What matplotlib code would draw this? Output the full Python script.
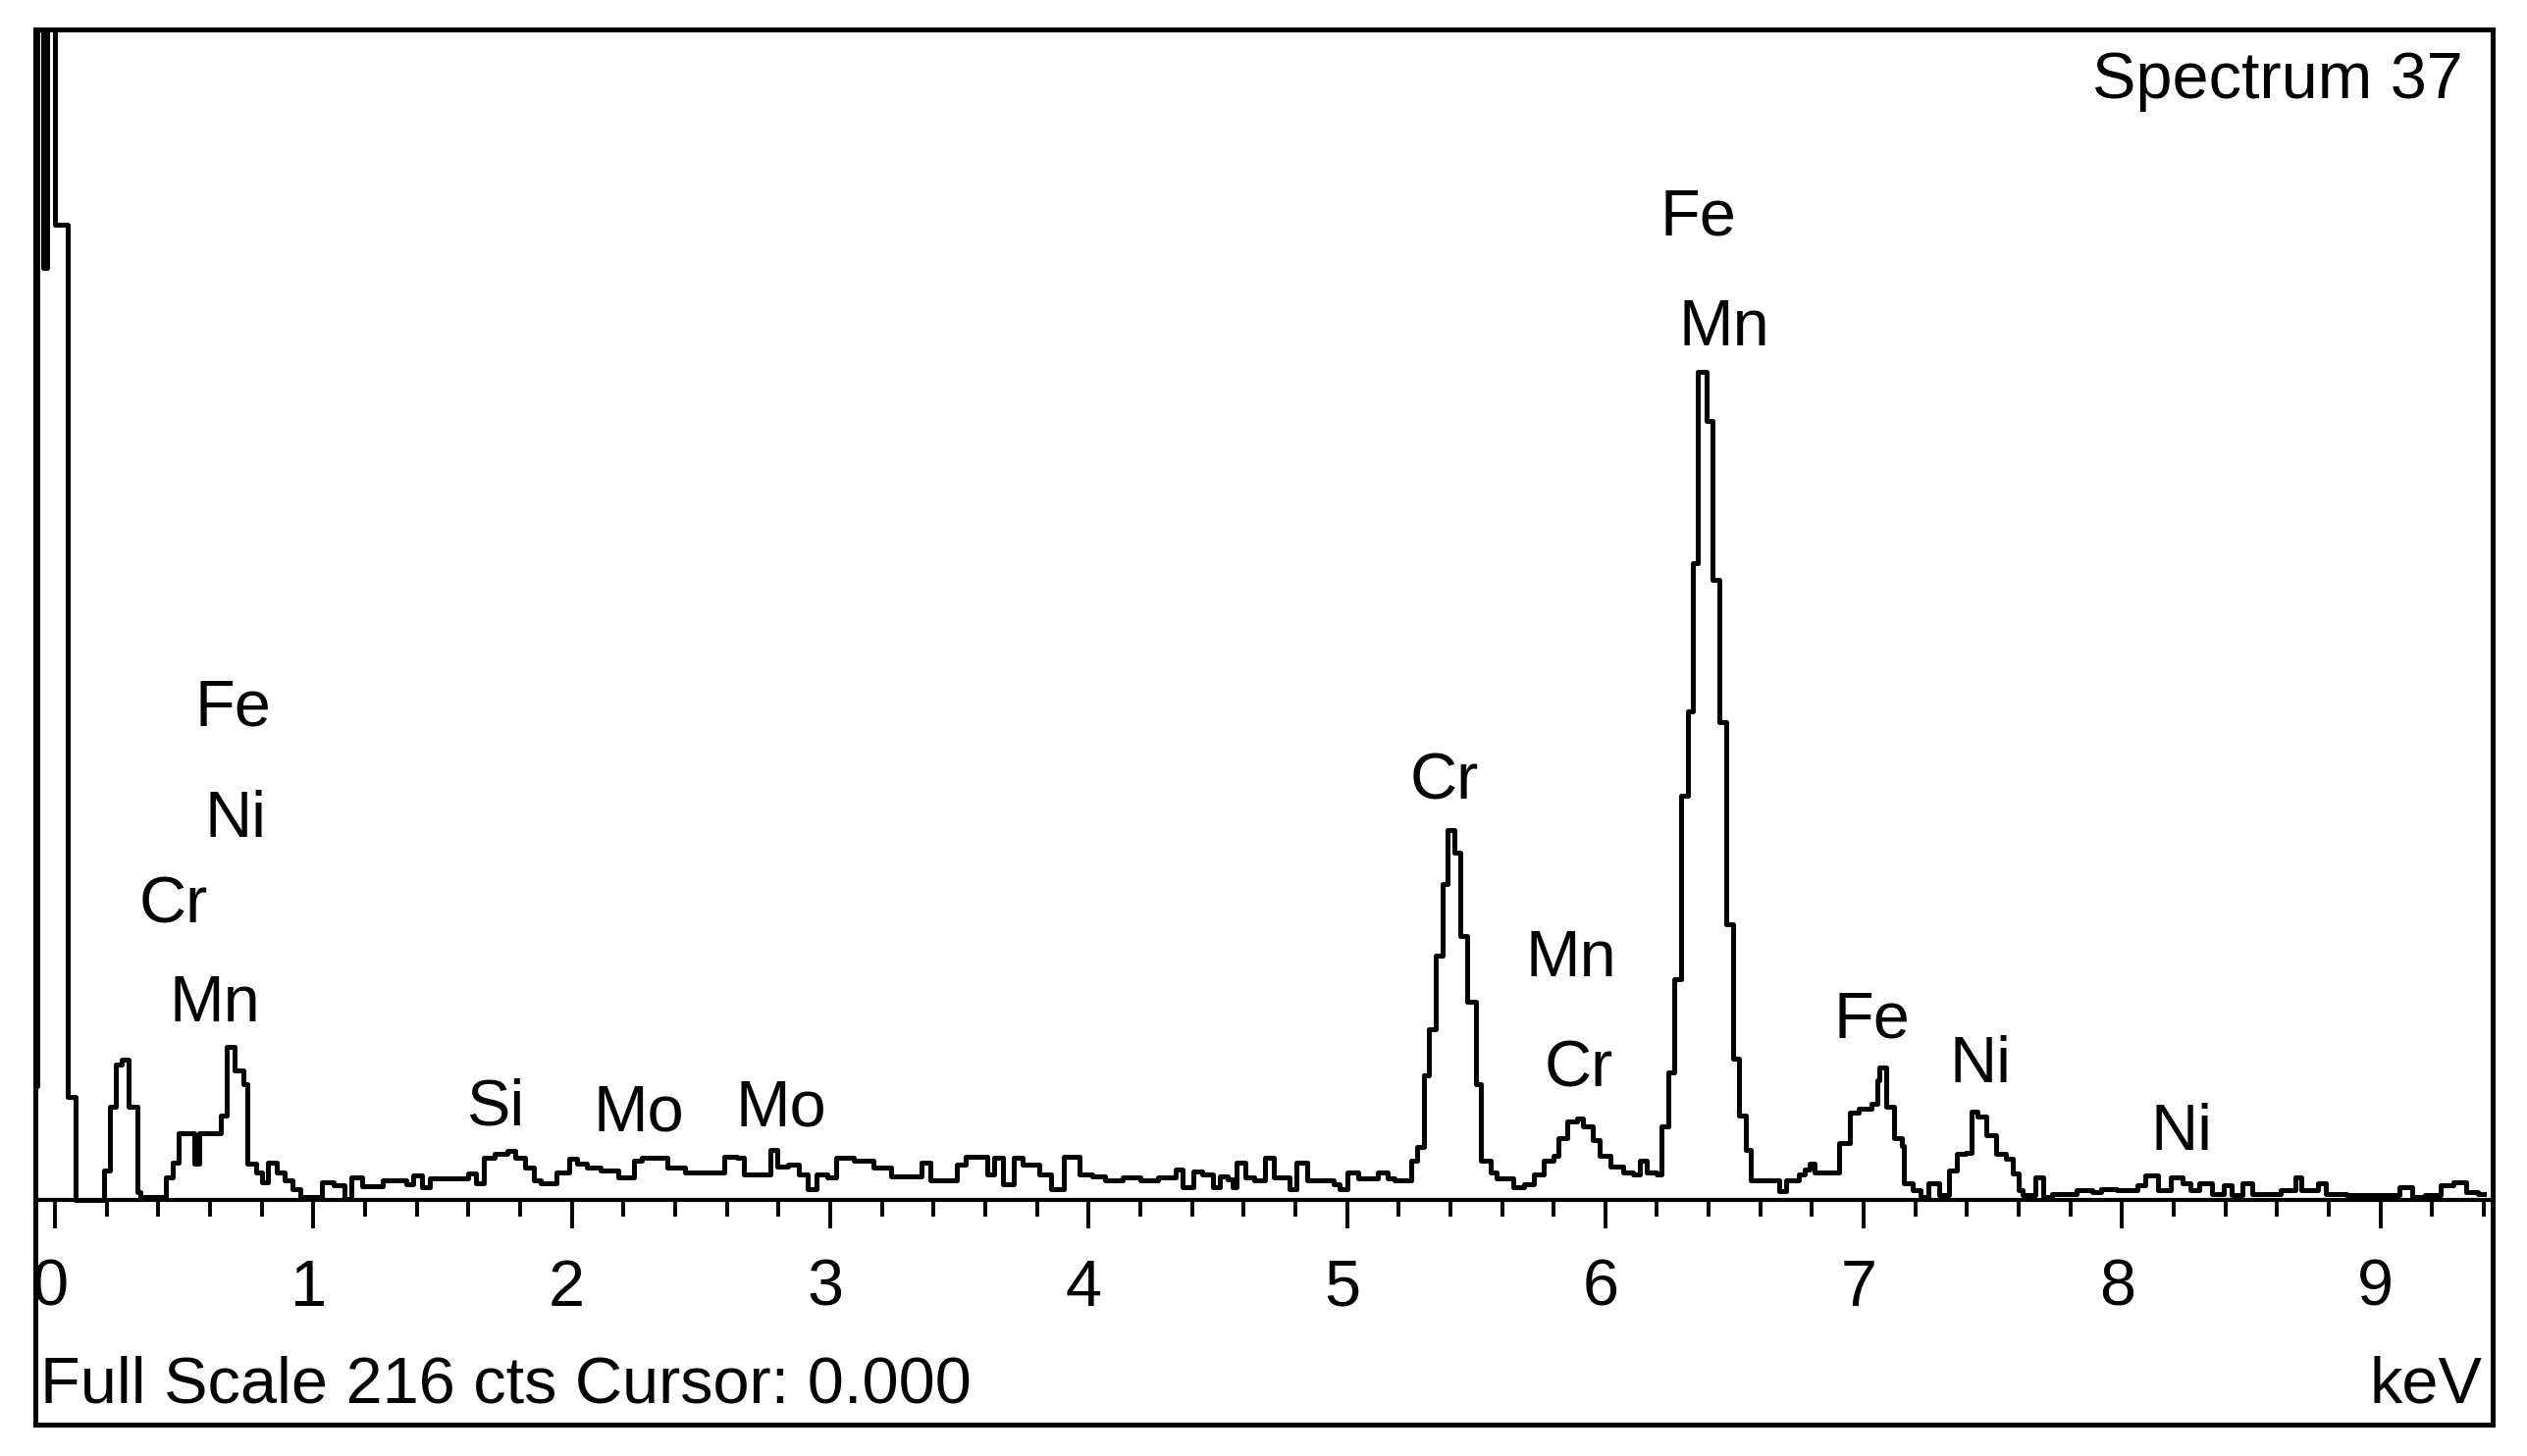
import matplotlib.pyplot as plt
from matplotlib.patches import Rectangle
from matplotlib.ticker import MultipleLocator
from matplotlib.transforms import ScaledTranslation

##spectrum, energy (keV) where each step starts and the counts of that step
energy = [
    -0.076, -0.068, -0.045, -0.03, 0.0, 0.05, 0.078,
    0.19, 0.214, 0.237, 0.26, 0.285, 0.318, 0.33, 0.43, 0.455, 0.48,
    0.54, 0.56, 0.64, 0.664, 0.696, 0.728, 0.745, 0.777, 0.80, 0.825,
    0.86, 0.89, 0.92, 0.95, 1.034, 1.08, 1.12, 1.147, 1.19, 1.27,
    1.36, 1.388, 1.42, 1.45, 1.60, 1.63, 1.66, 1.70, 1.75, 1.78,
    1.82, 1.855, 1.88, 1.94, 1.99, 2.02, 2.06, 2.11, 2.18, 2.24,
    2.27, 2.37, 2.44,
    2.59, 2.64, 2.667, 2.77, 2.794, 2.836, 2.88, 2.913, 2.946, 2.99,
    3.023, 3.09, 3.167, 3.235, 3.353, 3.387, 3.489, 3.523, 3.608, 3.633,
    3.667, 3.709, 3.743, 3.811, 3.853, 3.904, 3.964, 4.015, 4.065, 4.133,
    4.201, 4.269, 4.336, 4.362, 4.404, 4.438, 4.48, 4.507, 4.54, 4.557,
    4.574, 4.608, 4.642, 4.684, 4.718, 4.777, 4.803, 4.845, 4.947, 4.973,
    5.0,
    5.042, 5.119, 5.157, 5.183, 5.247, 5.273, 5.299, 5.318, 5.344, 5.369,
    5.389, 5.414, 5.44, 5.465, 5.498, 5.517, 5.555, 5.581, 5.645, 5.684,
    5.722, 5.761, 5.8, 5.819, 5.851, 5.89, 5.915, 5.953, 5.979, 6.018,
    6.069, 6.107, 6.133, 6.159, 6.197,
    6.217, 6.242, 6.267, 6.293, 6.319, 6.339, 6.358, 6.39, 6.416, 6.441,
    6.467, 6.493, 6.518, 6.544, 6.563, 6.672, 6.70, 6.75, 6.77, 6.79,
    6.81, 6.903, 6.948, 6.98, 7.029, 7.053, 7.061, 7.085, 7.116, 7.148,
    7.156, 7.188, 7.22, 7.251, 7.291, 7.33, 7.362, 7.394, 7.418, 7.441,
    7.473, 7.513, 7.552, 7.576, 7.60, 7.616,
    7.664, 7.695, 7.727, 7.822, 7.885, 7.917, 7.98, 8.06, 8.09, 8.14,
    8.187, 8.235, 8.266, 8.298, 8.346, 8.393, 8.425, 8.465, 8.504, 8.615,
    8.671, 8.695, 8.758, 8.79, 8.869, 9.075, 9.123, 9.171, 9.234, 9.282,
    9.33, 9.377, 9.40,
]
counts = [
    21, 260, 172, 260, 180, 19, 0,
    5.4, 17.1, 25.0, 25.9, 17.1, 1.4, 0.5, 4.2, 6.9, 12.3,
    6.6, 12.3, 15.6, 28.3, 23.8, 21.4, 6.6, 5.1, 3.3, 6.9,
    5.0, 3.5, 2.0, 0.5, 3.3, 2.7, 0.2, 4.2, 2.5, 3.6,
    2.8, 4.5, 2.4, 3.9, 4.8, 3.0, 7.8, 8.4, 9.0, 7.8,
    6.0, 3.6, 3.0, 5.1, 7.5, 6.6, 6.0, 5.4, 4.2, 7.2,
    7.8, 6.0, 5.0,
    8.0, 7.7, 4.7, 9.2, 6.2, 6.5, 4.7, 2.0, 4.7, 4.1,
    7.7, 7.2, 5.9, 4.4, 6.8, 3.5, 6.5, 8.0, 4.7, 7.7,
    2.9, 7.7, 6.5, 4.7, 2.0, 8.0, 4.7, 4.4, 3.5, 4.1,
    3.5, 4.1, 5.6, 2.3, 5.3, 4.7, 2.3, 4.4, 3.8, 2.3,
    6.8, 4.1, 3.5, 7.7, 4.1, 2.0, 6.8, 3.5, 2.9, 2.0,
    5.1,
    4.0, 5.1, 4.0, 3.5, 7.2, 9.8, 23.0, 31.4, 45.0, 58.2,
    68.2, 64.0, 48.7, 36.6, 21.4, 7.2, 5.1, 4.0, 2.4, 2.9,
    4.6, 7.2, 8.2, 11.3, 14.4, 15.0, 13.5, 11.0, 8.2, 6.2,
    5.1, 4.6, 7.2, 5.1, 4.6,
    13.5, 23.5, 40.8, 74.5, 90.2, 117.5, 152.8, 143.8, 114.4, 88.1,
    50.8, 26.1, 15.6, 9.2, 3.5, 1.6, 3.5, 4.6, 5.6, 6.7,
    5.1, 10.4, 16.1, 16.8, 17.7, 22.0, 24.4, 17.1, 11.4, 9.9,
    3.0, 1.75, 0.5, 3.0, 0.8, 5.4, 8.4, 8.7, 16.2, 15.3,
    12.0, 8.4, 7.5, 4.8, 1.75, 0.8,
    4.2, 0.5, 1.1, 1.75, 1.4, 2.0, 1.75, 2.7, 4.5, 1.75,
    4.2, 3.0, 1.75, 3.0, 1.1, 2.7, 0.8, 3.0, 1.1, 1.75,
    4.2, 1.75, 3.0, 1.1, 0.8, 2.4, 0.5, 0.8, 2.7, 3.3,
    1.4, 1.1, 1.1,
]

##element labels over the peaks
label_names = ["Fe", "Ni", "Cr", "Mn", "Si", "Mo", "Mo", "Cr", "Mn", "Cr",
               "Fe", "Mn", "Fe", "Ni", "Ni"]
label_kev = [0.69, 0.70, 0.46, 0.62, 1.705, 2.26, 2.81, 5.378, 5.868, 5.898,
             6.36, 6.46, 7.03, 7.45, 8.23]
label_cts = [87.5, 67.0, 51.1, 33.0, 13.8, 12.7, 13.6, 73.9, 41.3, 20.8,
             178.0, 157.7, 29.9, 21.7, 9.2]

full_scale = 216
cursor = 0.000
spectrum_name = "Spectrum 37"

plt.rcParams['font.family'] = ['Liberation Sans', 'DejaVu Sans']
fsize = 48

fig = plt.figure(figsize=(25.75, 14.84), dpi=100)
ax = fig.add_axes([36 / 2575, 32 / 1484, 2504 / 2575, 1422 / 1484])
ax.set_xlim(-0.076, 9.434)
ax.set_ylim(-41.5, full_scale)

ax.plot(energy, counts, drawstyle='steps-post', color='black', lw=3.6)

##x axis sits at zero counts, ticks hang below it
for side in ['top', 'left', 'right']:
    ax.spines[side].set_visible(False)
ax.spines['bottom'].set_position(('data', 0))
ax.spines['bottom'].set_linewidth(3.0)
ax.set_yticks([])
ax.xaxis.set_major_locator(MultipleLocator(1))
ax.xaxis.set_minor_locator(MultipleLocator(0.2))
ax.tick_params(axis='x', which='major', direction='out', length=21, width=2.8,
               pad=22, labelsize=fsize)
ax.tick_params(axis='x', which='minor', direction='out', length=12, width=2.8)

##the tick numbers sit a little left of their ticks in the original
shift = ScaledTranslation(-5 / 100, 0, fig.dpi_scale_trans)
for lab in ax.get_xticklabels():
    lab.set_transform(lab.get_transform() + shift)

##outer frame
ax.add_patch(Rectangle((0, 0), 1, 1, transform=ax.transAxes, fill=False,
                       ec='black', lw=3.6, clip_on=False, zorder=5))

for name, e, c in zip(label_names, label_kev, label_cts):
    ax.text(e, c, name, ha='center', va='baseline', fontsize=fsize)

ax.text(0.002, 0.016, "Full Scale %d cts Cursor: %.3f" % (full_scale, cursor),
        transform=ax.transAxes, ha='left', va='baseline', fontsize=fsize)
ax.text(0.996, 0.016, "keV", transform=ax.transAxes, ha='right',
        va='baseline', fontsize=fsize)
ax.text(0.988, 0.9508, spectrum_name, transform=ax.transAxes, ha='right',
        va='baseline', fontsize=fsize)

fig.savefig('out.png', dpi=100)
